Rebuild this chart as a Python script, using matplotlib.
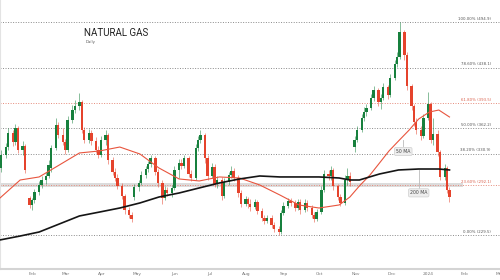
import numpy as np
import pandas as pd
import matplotlib
matplotlib.use('Agg')
import matplotlib.pyplot as plt
import matplotlib.dates as mdates
import matplotlib.transforms as mtransforms

# candle data (price), one candle every 2 business days from 6 Jan 2023
opens = [313.0, 329.2, 339.1, 356.6, 345.4, 362.8, 335.4, 340.4, 275.6, 266.9,
         273.1, 283.1, 291.8, 298.0, 303.0, 313.0, 337.9, 366.5, 354.1, 345.4,
         335.4, 372.8, 385.2, 390.2, 395.2, 360.3, 347.9, 356.6, 346.6, 335.4,
         329.2, 347.9, 354.1, 322.9, 308.0, 300.5, 290.5, 278.1, 260.6, 254.4,
         276.8, 289.3, 294.3, 304.3, 311.7, 318.0, 325.4, 308.0, 294.3, 275.6,
         285.6, 281.8, 288.1, 310.5, 319.2, 315.5, 325.4, 305.5, 300.5, 337.9,
         347.9, 354.1, 325.4, 303.0, 314.2, 293.0, 298.0, 278.1, 295.5, 304.3,
         309.2, 300.5, 281.8, 268.1, 274.3, 268.1, 264.4, 270.6, 259.4, 250.7,
         246.9, 250.7, 242.0, 237.0, 233.2, 256.9, 265.6, 271.9, 269.4, 263.1,
         270.6, 260.6, 269.4, 263.1, 254.4, 249.4, 258.1, 285.6, 305.5, 303.0,
         310.5, 290.5, 276.8, 269.4, 298.0, 303.0, 339.1, 347.9, 360.3, 375.3,
         382.7, 387.7, 400.2, 410.2, 395.2, 400.2, 413.9, 403.9, 425.1, 442.6,
         451.3, 482.4, 453.8, 415.1, 390.2, 370.3, 360.3, 352.8, 375.3, 392.7,
         347.9, 355.3, 332.9, 301.8, 313.0, 285.6]
closes = [329.2, 339.1, 356.6, 345.4, 362.8, 335.4, 340.4, 310.5, 266.9, 273.1,
          283.1, 291.8, 298.0, 303.0, 316.7, 337.9, 366.5, 354.1, 345.4, 335.4,
          372.8, 385.2, 390.2, 395.2, 360.3, 347.9, 356.6, 346.6, 335.4, 329.2,
          347.9, 354.1, 322.9, 308.0, 300.5, 290.5, 278.1, 260.6, 254.4, 249.4,
          289.3, 294.3, 304.3, 311.7, 318.0, 325.4, 308.0, 294.3, 275.6, 285.6,
          281.8, 288.1, 310.5, 319.2, 315.5, 325.4, 305.5, 300.5, 337.9, 347.9,
          354.1, 325.4, 303.0, 314.2, 293.0, 298.0, 278.1, 295.5, 304.3, 309.2,
          300.5, 281.8, 268.1, 274.3, 268.1, 264.4, 270.6, 259.4, 250.7, 246.9,
          250.7, 242.0, 237.0, 233.2, 256.9, 265.6, 271.9, 269.4, 263.1, 270.6,
          260.6, 269.4, 263.1, 254.4, 249.4, 258.1, 285.6, 305.5, 303.0, 310.5,
          290.5, 276.8, 269.4, 298.0, 303.0, 295.5, 347.9, 360.3, 375.3, 382.7,
          387.7, 400.2, 410.2, 395.2, 400.2, 413.9, 403.9, 425.1, 442.6, 451.3,
          482.4, 453.8, 415.1, 390.2, 370.3, 360.3, 352.8, 375.3, 392.7, 347.9,
          355.3, 332.9, 301.8, 313.0, 285.6, 276.8]
highs = [335.4, 344.1, 362.8, 360.3, 367.8, 365.3, 346.6, 342.9, 278.1, 275.6,
         286.8, 296.8, 303.0, 308.0, 322.9, 341.6, 375.3, 370.3, 362.8, 349.1,
         377.8, 391.5, 397.7, 406.4, 397.7, 364.1, 361.6, 360.3, 351.6, 340.4,
         352.8, 360.3, 356.6, 326.7, 313.0, 305.5, 294.3, 280.6, 264.4, 258.1,
         293.0, 298.0, 309.2, 315.5, 321.7, 329.2, 327.9, 311.7, 298.0, 290.5,
         289.3, 291.8, 315.5, 324.2, 324.2, 329.2, 327.9, 310.5, 342.9, 352.8,
         360.3, 356.6, 329.2, 319.2, 318.0, 303.0, 301.8, 300.5, 308.0, 315.5,
         313.0, 304.3, 285.6, 278.1, 276.8, 274.3, 274.3, 273.1, 263.1, 254.4,
         254.4, 254.4, 245.7, 240.7, 260.6, 270.6, 275.6, 275.6, 273.1, 274.3,
         274.3, 274.3, 273.1, 266.9, 258.1, 261.9, 290.5, 310.5, 310.5, 315.5,
         313.0, 293.0, 280.6, 304.3, 313.0, 308.0, 352.8, 365.3, 380.3, 389.0,
         392.7, 405.2, 415.1, 412.7, 405.2, 418.9, 416.4, 430.1, 447.5, 457.5,
         494.9, 484.9, 457.5, 417.6, 392.7, 375.3, 365.3, 380.3, 407.7, 395.2,
         375.3, 360.3, 335.4, 318.0, 315.5, 289.3]
lows = [308.0, 325.4, 335.4, 340.4, 341.6, 331.7, 329.2, 306.7, 263.1, 260.6,
        269.4, 279.3, 288.1, 293.0, 300.5, 308.0, 335.4, 350.3, 341.6, 330.4,
        332.9, 369.0, 381.5, 385.2, 356.6, 344.1, 344.1, 341.6, 331.7, 325.4,
        326.7, 341.6, 318.0, 304.3, 296.8, 286.8, 274.3, 255.7, 250.7, 245.7,
        273.1, 284.3, 291.8, 300.5, 308.0, 314.2, 304.3, 289.3, 268.1, 273.1,
        278.1, 276.8, 285.6, 300.5, 311.7, 313.0, 301.8, 296.8, 298.0, 334.2,
        344.1, 319.2, 298.0, 300.5, 289.3, 288.1, 273.1, 275.6, 291.8, 300.5,
        296.8, 276.8, 264.4, 265.6, 263.1, 259.4, 261.9, 255.7, 246.9, 243.2,
        244.4, 238.2, 233.2, 229.5, 230.7, 254.4, 263.1, 265.6, 259.4, 260.6,
        255.7, 258.1, 259.4, 250.7, 245.7, 246.9, 255.7, 283.1, 298.0, 298.0,
        285.6, 273.1, 265.6, 266.9, 291.8, 290.5, 332.9, 345.4, 357.8, 371.5,
        377.8, 385.2, 396.5, 390.2, 386.5, 397.7, 398.9, 401.4, 422.6, 438.8,
        448.8, 447.5, 410.2, 385.2, 365.3, 355.3, 347.9, 350.3, 372.8, 344.1,
        341.6, 327.9, 298.0, 298.0, 281.8, 270.6]

# moving averages (sampled)
ma50_dates = ['2023-01-05', '2023-01-22', '2023-02-07', '2023-02-24', '2023-03-13',
              '2023-03-30', '2023-04-16', '2023-05-03', '2023-05-19', '2023-06-05',
              '2023-06-22', '2023-07-09', '2023-07-26', '2023-08-12', '2023-08-29',
              '2023-09-14', '2023-10-01', '2023-10-18', '2023-10-27', '2023-11-04',
              '2023-11-13', '2023-11-21', '2023-11-29', '2023-12-07', '2023-12-16',
              '2023-12-24', '2024-01-02', '2024-01-10', '2024-01-19']
ma50 = [275.6, 298.0, 301.8, 316.7, 331.7, 334.2, 339.1, 330.4, 313.0, 299.3,
        296.8, 301.8, 300.5, 291.8, 279.3, 266.9, 263.1, 266.9, 276.8, 290.5,
        304.3, 319.2, 334.2, 346.6, 360.3, 374.0, 382.7, 385.2, 376.5]
ma200_dates = ['2023-01-05', '2023-01-22', '2023-02-07', '2023-02-24', '2023-03-13',
               '2023-03-30', '2023-04-16', '2023-05-03', '2023-05-19', '2023-06-05',
               '2023-06-22', '2023-07-09', '2023-07-26', '2023-08-12', '2023-08-29',
               '2023-09-14', '2023-10-01', '2023-10-18', '2023-10-27', '2023-11-04',
               '2023-11-21', '2023-12-07', '2023-12-24', '2024-01-10', '2024-01-19']
ma200 = [223.3, 228.2, 233.2, 243.2, 253.2, 258.1, 263.1, 269.4, 276.8, 281.8,
         288.1, 294.3, 299.3, 303.0, 301.8, 301.8, 301.8, 300.5, 298.0, 298.0,
         305.5, 310.5, 311.7, 311.7, 310.5]

# fibonacci retracement levels
fib_pct = ['100.00%', '78.60%', '61.80%', '50.00%', '38.20%', '23.60%', '0.00%']
fib_price = [494.9, 438.1, 393.5, 362.2, 330.9, 292.1, 229.5]

month_labels = ['Feb', 'Mar', 'Apr', 'May', 'Jun', 'Jul', 'Aug', 'Sep', 'Oct',
                'Nov', 'Dec', '2024', 'Feb', 'Mar']

UP = '#17803d'
DOWN = '#e5432c'

fig = plt.figure(figsize=(5, 2.8), dpi=100, facecolor='white')
ax = fig.add_axes([0, 11 / 280, 1, 269 / 280])

x = mdates.date2num(pd.date_range('2023-01-06', periods=len(closes), freq='2B'))
o = np.array(opens)
c = np.array(closes)
h = np.array(highs)
l = np.array(lows)
cols = np.where(c >= o, UP, DOWN)

# fib lines
tr = mtransforms.blended_transform_factory(ax.transAxes, ax.transData)
for pct, p in zip(fib_pct, fib_price):
    red = pct in ('61.80%', '23.60%')
    lc = '#e58a7a' if red else '#8a8a8a'
    if pct == '23.60%':
        ax.axhspan(p - 2.6, p + 2.6, xmin=0, xmax=0.925, color='#dcdcdc', lw=0, zorder=1)
    ax.axhline(p, color=lc, lw=0.7, ls=(0, (1, 1.6)), zorder=1.5)
    ax.text(0.982, p + 1.5, pct + ' (' + '{0:.1f}'.format(p) + ')', transform=tr,
            ha='right', va='bottom', fontsize=2.8,
            color='#d9604c' if red else '#555555')

# candles
ax.vlines(x, l, h, colors=cols, lw=0.45, alpha=0.8, zorder=3)
ax.bar(x, np.maximum(np.abs(c - o), 0.8), bottom=np.minimum(o, c), width=2.0,
       color=cols, lw=0, zorder=4)

# moving averages
ax.plot(mdates.date2num(pd.to_datetime(ma50_dates)), ma50, color='#e8553e', lw=0.8, zorder=5)
ax.plot(mdates.date2num(pd.to_datetime(ma200_dates)), ma200, color='#151515', lw=1.2, zorder=5)

# MA labels
box = dict(boxstyle='round,pad=0.35', fc='#eeeeee', ec='#d0d0d0', lw=0.5)
d50 = mdates.date2num(pd.Timestamp('2023-12-11'))
ax.plot([d50, d50], [340.0, 348.0], color='#bbbbbb', lw=0.6, zorder=5)
ax.text(d50, 333.5, '50 MA', fontsize=3.3, color='#444444', ha='center', va='center', bbox=box, zorder=6)
d200 = mdates.date2num(pd.Timestamp('2023-12-24'))
ax.plot([d200, d200], [288.0, 310.0], color='#bbbbbb', lw=0.6, zorder=5)
ax.text(d200, 282.0, '200 MA', fontsize=3.3, color='#444444', ha='center', va='center', bbox=box, zorder=6)

# title
ax.text(mdates.date2num(pd.Timestamp('2023-03-17')), 481, 'NATURAL GAS', fontsize=7,
        family=['Liberation Sans Narrow', 'Roboto', 'DejaVu Sans'], color='#222222', va='center')
ax.text(mdates.date2num(pd.Timestamp('2023-03-18')), 470, 'Daily', fontsize=2.8,
        color='#555555', va='center')

# axes
ax.set_xlim(mdates.date2num(pd.Timestamp('2023-01-05')), mdates.date2num(pd.Timestamp('2024-03-01 14:00')))
ax.set_ylim(187.1, 522.3)
ticks = pd.date_range('2023-02-01', periods=len(month_labels), freq='MS')
ax.set_xticks(mdates.date2num(ticks))
ax.set_xticklabels(month_labels)
ax.set_yticks([])
ax.tick_params(axis='x', length=0, labelsize=3.2, colors='#777777', pad=2)
for s in ['top', 'right']:
    ax.spines[s].set_visible(False)
ax.spines['left'].set_color('#e3e3e3')
ax.spines['left'].set_linewidth(0.8)
ax.spines['bottom'].set_color('#d4d4d4')
ax.spines['bottom'].set_linewidth(1.5)

fig.savefig('out.png', dpi=100, facecolor='white')
